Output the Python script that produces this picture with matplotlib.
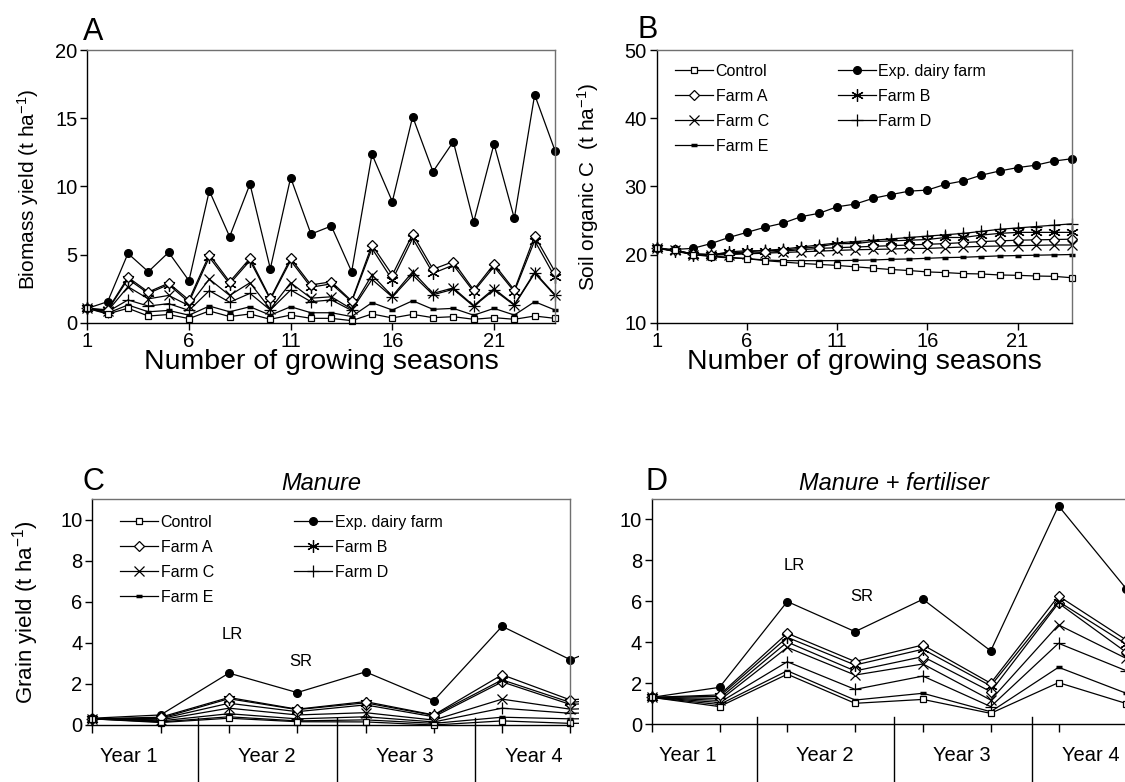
import matplotlib.pyplot as plt
import numpy as np
from matplotlib.patches import Rectangle

plt.rcParams['font.family'] = ['Liberation Sans', 'DejaVu Sans']
plt.rcParams['mathtext.fontset'] = 'custom'
plt.rcParams['mathtext.rm'] = 'Liberation Sans'
plt.rcParams['mathtext.it'] = 'Liberation Sans:italic'

W, H = 1125, 782

# ---- data ----
seasons = np.arange(1, 25)
season_ticks = [1, 6, 11, 16, 21]
years = ['Year 1', 'Year 2', 'Year 3', 'Year 4']

# A: biomass yield (t/ha) per growing season
bio_exp = [1.05, 1.54, 5.08, 3.74, 5.16, 3.08, 9.68, 6.31, 10.17, 3.96, 10.64, 6.5,
           7.09, 3.74, 12.35, 8.88, 15.11, 11.08, 13.28, 7.38, 13.11, 7.65, 16.72, 12.62]
bio_a = [1.05, 0.95, 3.33, 2.25, 2.9, 1.66, 5.0, 3.0, 4.72, 1.78, 4.72, 2.77,
         3.0, 1.6, 5.7, 3.5, 6.5, 3.92, 4.48, 2.4, 4.3, 2.4, 6.36, 3.74]
bio_b = [1.05, 0.9, 3.2, 2.15, 2.8, 1.5, 4.8, 2.85, 4.55, 1.71, 4.55, 2.6,
         2.85, 1.54, 5.45, 3.13, 6.19, 3.62, 4.23, 2.28, 4.11, 2.28, 6.02, 3.33]
bio_c = [1.05, 0.85, 2.64, 1.75, 2.0, 1.25, 3.2, 2.0, 2.93, 1.0, 2.93, 1.8,
         1.9, 1.0, 3.5, 1.95, 3.74, 2.15, 2.55, 1.25, 2.5, 1.32, 3.7, 2.05]
bio_d = [1.05, 0.8, 1.67, 1.22, 1.4, 0.9, 2.35, 1.5, 2.15, 0.93, 2.4, 1.54,
         1.67, 0.9, 3.18, 1.88, 3.5, 2.05, 2.45, 1.2, 2.4, 1.28, 3.62, 2.0]
bio_e = [1.05, 0.7, 1.3, 0.8, 0.9, 0.55, 1.22, 0.8, 1.17, 0.55, 1.17, 0.73,
         0.73, 0.45, 1.47, 0.93, 1.61, 0.98, 1.05, 0.55, 1.05, 0.56, 1.54, 0.93]
bio_ctrl = [1.05, 0.64, 1.06, 0.49, 0.6, 0.3, 0.86, 0.45, 0.64, 0.25, 0.56, 0.32,
            0.32, 0.15, 0.64, 0.35, 0.61, 0.37, 0.44, 0.25, 0.37, 0.25, 0.49, 0.32]

# B: soil organic C (t/ha)
soc_exp = [20.9, 20.75, 20.9, 21.6, 22.5, 23.25, 24.0, 24.6, 25.55, 26.05, 27.0, 27.4,
           28.25, 28.8, 29.3, 29.45, 30.3, 30.8, 31.65, 32.25, 32.75, 33.1, 33.7, 34.05]
soc_a = [20.9, 20.6, 20.1, 20.0, 20.1, 20.2, 20.3, 20.5, 20.7, 20.9, 21.0, 21.1,
         21.2, 21.3, 21.4, 21.5, 21.6, 21.75, 21.9, 22.0, 22.1, 22.15, 22.2, 22.25]
soc_b = [20.9, 20.5, 20.0, 19.9, 20.4, 20.55, 20.55, 20.65, 20.9, 21.15, 21.6, 21.6,
         21.9, 22.0, 22.1, 22.2, 22.5, 22.5, 22.85, 23.1, 23.25, 23.25, 23.25, 23.25]
soc_c = [20.9, 20.6, 20.0, 19.9, 20.0, 20.1, 20.2, 20.3, 20.4, 20.5, 20.6, 20.7,
         20.75, 20.8, 20.9, 20.9, 21.0, 21.1, 21.2, 21.25, 21.3, 21.35, 21.4, 21.4]
soc_d = [20.9, 20.6, 20.1, 20.0, 20.2, 20.4, 20.6, 20.8, 21.1, 21.4, 21.7, 21.9,
         22.1, 22.3, 22.5, 22.7, 22.9, 23.1, 23.4, 23.7, 23.9, 24.1, 24.3, 24.5]
soc_e = [20.9, 20.6, 20.1, 19.8, 19.6, 19.4, 19.2, 19.1, 19.1, 19.1, 19.1, 19.15,
         19.2, 19.3, 19.35, 19.45, 19.55, 19.6, 19.7, 19.8, 19.85, 19.9, 19.95, 20.0]
soc_ctrl = [20.9, 20.6, 20.0, 19.7, 19.5, 19.4, 19.1, 18.9, 18.7, 18.55, 18.4, 18.2,
            18.0, 17.8, 17.65, 17.45, 17.35, 17.2, 17.15, 17.0, 16.95, 16.85, 16.8, 16.6]

# C: grain yield with manure (t/ha), LR/SR seasons over 4 years
man_exp = [0.33, 0.49, 2.53, 1.58, 2.59, 1.19, 4.81, 3.18, 4.5]
man_a = [0.3, 0.38, 1.34, 0.77, 1.14, 0.49, 2.45, 1.22, 1.5]
man_b = [0.3, 0.33, 1.28, 0.75, 1.08, 0.47, 2.2, 1.1, 1.4]
man_x = [0.3, 0.3, 1.06, 0.65, 0.98, 0.4, 2.1, 1.0, 1.2]
man_c = [0.3, 0.25, 0.82, 0.49, 0.6, 0.24, 1.26, 0.77, 0.9]
man_d = [0.3, 0.2, 0.55, 0.3, 0.4, 0.15, 0.82, 0.57, 0.65]
man_e = [0.3, 0.15, 0.4, 0.2, 0.25, 0.08, 0.38, 0.3, 0.32]
man_ctrl = [0.3, 0.12, 0.33, 0.16, 0.15, 0.0, 0.2, 0.08, 0.1]

# D: grain yield with manure + fertiliser (t/ha)
fert_exp = [1.3, 1.79, 5.98, 4.51, 6.09, 3.57, 10.65, 6.6]
fert_a = [1.3, 1.42, 4.43, 3.05, 3.86, 1.99, 6.25, 4.1]
fert_b = [1.3, 1.35, 4.23, 2.88, 3.65, 1.86, 5.98, 3.9]
fert_x = [1.3, 1.25, 4.0, 2.59, 3.29, 1.58, 5.9, 3.5]
fert_c = [1.3, 1.15, 3.74, 2.39, 2.93, 1.17, 4.84, 3.2]
fert_d = [1.3, 1.05, 3.04, 1.69, 2.34, 0.85, 3.94, 2.6]
fert_e = [1.3, 0.95, 2.6, 1.17, 1.5, 0.6, 2.77, 1.5]
fert_ctrl = [1.3, 0.85, 2.43, 1.01, 1.2, 0.52, 2.02, 1.0]

# ---- styles ----
styles = {
    'Control': dict(marker='s', mfc='white', mec='black', ms=5, mew=0.9),
    'Exp. dairy farm': dict(marker='o', mfc='black', mec='black', ms=5.5),
    'Farm A': dict(marker='D', mfc='white', mec='black', ms=5, mew=0.9),
    'Farm B': dict(marker=(6, 2, 0), mec='black', ms=9, mew=0.9),
    'Farm C': dict(marker='x', mec='black', ms=7, mew=0.9),
    'Farm D': dict(marker='+', mec='black', ms=8, mew=0.9),
    'Farm E': dict(marker='_', mec='black', ms=5, mew=2.5),
    'extra': dict(marker='D', mfc='white', mec='black', ms=5, mew=0.9),
}

fig = plt.figure(figsize=(W / 100, H / 100), dpi=100)


def add_ax(l, t, r, b):
    return fig.add_axes([l / W, 1 - b / H, (r - l) / W, (b - t) / H])


def draw(ax, x, series, clip=None):
    for name, vals in series:
        label = '_nolegend_' if name == 'extra' else name
        ln, = ax.plot(x, vals, color='black', lw=0.9, label=label, **styles[name])
        if clip is None:
            ln.set_clip_on(False)
        else:
            ln.set_clip_path(clip)


def style_ax(ax):
    for s in ['top', 'right']:
        ax.spines[s].set_color('#707070')
    for s in ax.spines.values():
        s.set_linewidth(1.0)
    ax.tick_params(direction='out', length=5, width=1, labelsize=14.5, pad=2)


leg_order = ['Control', 'Farm A', 'Farm C', 'Farm E', 'Exp. dairy farm', 'Farm B', 'Farm D']
leg_kw = dict(ncol=2, loc='upper left', frameon=False, fontsize=11.5, handlelength=2.4,
              handletextpad=0.15, labelspacing=0.62, borderpad=0, borderaxespad=0)

# ---- A ----
axA = add_ax(87.3, 50, 555, 322.7)
draw(axA, seasons, [('Exp. dairy farm', bio_exp), ('Farm E', bio_e), ('Farm D', bio_d),
                    ('Farm C', bio_c), ('Farm B', bio_b), ('Farm A', bio_a),
                    ('Control', bio_ctrl)])
axA.set_xlim(1, 24)
axA.set_ylim(0, 20)
axA.set_xticks(season_ticks)
axA.set_yticks(range(0, 21, 5))
style_ax(axA)
axA.set_ylabel('Biomass yield (t ha$^{-1}$)', fontsize=15)
axA.yaxis.set_label_coords(-0.099, 0.49)
axA.set_xlabel('Number of growing seasons', fontsize=20.5)
axA.xaxis.set_label_coords(0.5, -0.095)
fig.text(83 / W, 1 - 40 / H, 'A', fontsize=22)

# ---- B ----
axB = add_ax(656.7, 50, 1071.7, 322.7)
draw(axB, seasons, [('Exp. dairy farm', soc_exp), ('Farm E', soc_e), ('Farm D', soc_d),
                    ('Farm C', soc_c), ('Farm B', soc_b), ('Farm A', soc_a),
                    ('Control', soc_ctrl)])
axB.set_xlim(1, 24)
axB.set_ylim(10, 50)
axB.set_xticks(season_ticks)
axB.set_yticks(range(10, 51, 10))
style_ax(axB)
axB.set_ylabel('Soil organic C  (t ha$^{-1}$)', fontsize=15)
axB.yaxis.set_label_coords(-0.134, 0.5)
axB.set_xlabel('Number of growing seasons', fontsize=20.5)
axB.xaxis.set_label_coords(0.5, -0.095)
fig.text(638 / W, 1 - 38 / H, 'B', fontsize=22)
hB = {l.get_label(): l for l in axB.get_lines()}
axB.legend([hB[n] for n in leg_order], leg_order,
           bbox_to_anchor=(675 / W, 1 - 64 / H), bbox_transform=fig.transFigure,
           columnspacing=4.3, **leg_kw)


# ---- C and D ----
def grain_panel(l, t, step, b, series, npts, title, title_x, letter, letter_x, lr, sr, legend_at=None):
    ax = add_ax(l, t, l + 7 * step, b)
    clip = Rectangle((-0.4, -0.6), 7.52, 12.2, transform=ax.transData)
    draw(ax, np.arange(npts), series, clip=clip)
    ax.set_xlim(0, 7)
    ax.set_ylim(0, 11)
    ax.set_yticks(range(0, 11, 2))
    ax.set_xticks(range(8))
    ax.set_xticklabels([])
    style_ax(ax)
    ax.tick_params(axis='x', length=6)
    # year separators and labels
    for s in [1.55, 3.58, 5.61]:
        ax.plot([s, s], [0.35, -4], color='black', lw=1, clip_on=False)
    for xc, yr in zip([0.53, 2.55, 4.58, 6.47], years):
        ax.text(xc, -1.52, yr, ha='center', va='center', fontsize=14.5, clip_on=False)
    ax.text(lr[0], lr[1], 'LR', ha='center', va='center', fontsize=12)
    ax.text(sr[0], sr[1], 'SR', ha='center', va='center', fontsize=12)
    fig.text(title_x / W, 1 - 490 / H, title, style='italic', fontsize=17,
             ha='center', va='baseline')
    fig.text(letter_x / W, 1 - 490 / H, letter, fontsize=22)
    if legend_at is not None:
        hd = {ln.get_label(): ln for ln in ax.get_lines()}
        ax.legend([hd[n] for n in leg_order], leg_order,
                  bbox_to_anchor=(legend_at[0] / W, 1 - legend_at[1] / H),
                  bbox_transform=fig.transFigure, columnspacing=5.0, **leg_kw)
    return ax


axC = grain_panel(92.3, 499.3, 68.3, 725,
                  [('Exp. dairy farm', man_exp), ('Farm E', man_e), ('Farm D', man_d),
                   ('Farm C', man_c), ('extra', man_x), ('Farm B', man_b), ('Farm A', man_a),
                   ('Control', man_ctrl)],
                  9, 'Manure', 321.7, 'C', 83, (2.05, 4.39), (3.05, 3.1),
                  legend_at=(120, 515))
axC.set_ylabel('Grain yield (t ha$^{-1}$)', fontsize=16)
axC.yaxis.set_label_coords(-0.107, 0.5)

axD = grain_panel(651.7, 498.7, 67.8, 724,
                  [('Exp. dairy farm', fert_exp), ('Farm E', fert_e), ('Farm D', fert_d),
                   ('Farm C', fert_c), ('extra', fert_x), ('Farm B', fert_b), ('Farm A', fert_a),
                   ('Control', fert_ctrl)],
                  8, 'Manure + fertiliser', 893.5, 'D', 645, (2.1, 7.73), (3.1, 6.22))

fig.savefig('out.png', dpi=100)
